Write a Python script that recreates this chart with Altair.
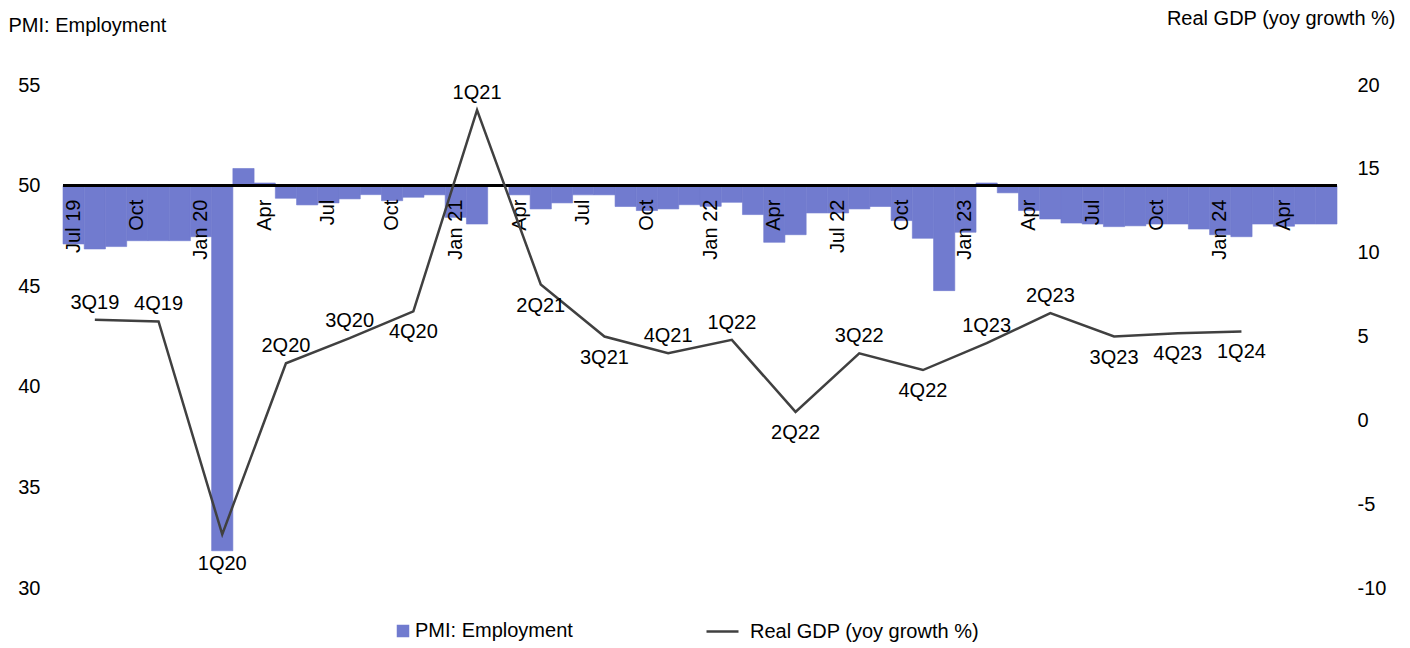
import altair as alt
import pandas as pd

# PMI employment index, monthly, Jul 2019 - Jun 2024
pmi_values = [
    47.10, 46.85, 46.97, 47.26, 47.26, 47.26,   # Jul-Dec 19
    47.46, 31.85, 50.85, 50.13, 49.37, 49.04,   # Jan-Jun 20
    49.14, 49.34, 49.55, 49.25, 49.42, 49.54,   # Jul-Dec 20
    48.42, 48.09, 50.05, 49.54, 48.84, 49.14,   # Jan-Jun 21
    49.54, 49.54, 48.96, 48.76, 48.84, 49.05,   # Jul-Dec 21
    48.97, 49.17, 48.56, 47.18, 47.56, 48.64,   # Jan-Jun 22
    48.64, 48.84, 48.96, 48.26, 47.38, 44.78,   # Jul-Dec 22
    47.68, 50.13, 49.64, 48.76, 48.34, 48.14,   # Jan-Jun 23
    48.09, 47.96, 48.00, 48.09, 48.09, 47.84,   # Jul-Dec 23
    47.56, 47.46, 48.09, 47.98, 48.09, 48.09,   # Jan-Jun 24
]

# Month labels, one every quarter starting Jul 19
tick_labels = ["Jul 19", "Oct", "Jan 20", "Apr", "Jul", "Oct", "Jan 21", "Apr",
               "Jul", "Oct", "Jan 22", "Apr", "Jul 22", "Oct", "Jan 23", "Apr",
               "Jul", "Oct", "Jan 24", "Apr"]

# Real GDP, year-on-year growth (%), quarterly
quarters = ["3Q19", "4Q19", "1Q20", "2Q20", "3Q20", "4Q20", "1Q21", "2Q21",
            "3Q21", "4Q21", "1Q22", "2Q22", "3Q22", "4Q22", "1Q23", "2Q23",
            "3Q23", "4Q23", "1Q24"]
gdp_values = [6.0, 5.9, -6.8, 3.4, 4.9, 6.5, 18.5, 8.1,
              5.0, 4.0, 4.8, 0.5, 4.0, 3.0, 4.6, 6.4,
              5.0, 5.2, 5.3]
# which side of the line each quarter label sits on
label_side = ["above", "above", "far below", "above", "above", "below", "above", "below",
              "below", "above", "above", "below", "above", "below", "above", "above",
              "below", "below", "below"]

BAR_COLOR = "#717bcf"
LINE_COLOR = "#404040"
FONT = "Liberation Sans"
FS = 20

pmi_df = pd.DataFrame({
    "idx": list(range(len(pmi_values))),
    "pmi": pmi_values,
    "series": "PMI: Employment",
})
tick_df = pd.DataFrame({
    "idx": [3 * k for k in range(len(tick_labels))],
    "label": tick_labels,
})
gdp_df = pd.DataFrame({
    "idx": [1 + 3 * k for k in range(len(quarters))],
    "quarter": quarters,
    "gdp": gdp_values,
    "side": label_side,
    "series": "Real GDP (yoy growth %)",
})

x_scale = alt.Scale(domain=[0, len(pmi_values)], nice=False, zero=False)
left_scale = alt.Scale(domain=[30, 55], nice=False, zero=False)
right_scale = alt.Scale(domain=[-10, 20], nice=False, zero=False)

left_axis = alt.Axis(
    values=[30, 35, 40, 45, 50, 55], domain=False, ticks=False, grid=False,
    labelFontSize=FS, labelColor="black", labelPadding=23, labelFont=FONT,
    title="PMI: Employment", titleAngle=0, titleX=-55, titleY=-60,
    titleAlign="left", titleBaseline="middle", titleFontWeight="normal",
    titleFontSize=FS, titleColor="black", titleFont=FONT,
)
right_axis = alt.Axis(
    orient="right", values=[-10, -5, 0, 5, 10, 15, 20], domain=False, ticks=False,
    grid=False, labelFontSize=FS, labelColor="black", labelPadding=20,
    labelAlign="left", labelFont=FONT, labelExpr="'' + datum.value",
    title="Real GDP (yoy growth %)", titleAngle=0, titleX=58, titleY=-67,
    titleAlign="right", titleBaseline="middle", titleFontWeight="normal",
    titleFontSize=FS, titleColor="black", titleFont=FONT,
)

bars = alt.Chart(pmi_df).transform_calculate(
    idx_end="datum.idx + 1"
).mark_bar(stroke=BAR_COLOR, strokeWidth=0.6).encode(
    x=alt.X("idx:Q", scale=x_scale, axis=None),
    x2="idx_end:Q",
    y=alt.Y("pmi:Q", scale=left_scale, axis=left_axis),
    y2=alt.datum(50),
    fill=alt.Fill("series:N", scale=alt.Scale(range=[BAR_COLOR]),
                  legend=alt.Legend(orient="none", legendX=330, legendY=536,
                                    title=None, labelFontSize=FS, labelFont=FONT,
                                    labelColor="black", symbolType="square",
                                    symbolSize=121, padding=0, labelOffset=2,
                                    labelLimit=400)),
)

base_rule = alt.Chart(pmi_df).mark_rule(color="black", strokeWidth=2).encode(
    y=alt.YDatum(50, scale=left_scale, axis=left_axis),
)

month_text = alt.Chart(tick_df).transform_calculate(
    mid="datum.idx + 0.5"
).mark_text(angle=270, align="right", baseline="middle", dx=-14,
            fontSize=FS, font=FONT, color="black").encode(
    x=alt.X("mid:Q", scale=x_scale, axis=None),
    y=alt.YDatum(50, scale=left_scale, axis=left_axis),
    text="label:N",
)

left_layer = alt.layer(bars, base_rule, month_text)

gdp_x = alt.X("mid:Q", scale=x_scale, axis=None)
gdp_y = alt.Y("gdp:Q", scale=right_scale, axis=right_axis)

gdp_line = alt.Chart(gdp_df).transform_calculate(
    mid="datum.idx + 0.5"
).mark_line(strokeWidth=2.5).encode(
    x=gdp_x,
    y=gdp_y,
    stroke=alt.Stroke("series:N", scale=alt.Scale(range=[LINE_COLOR]),
                      legend=alt.Legend(orient="none", legendX=642, legendY=529,
                                        title=None, labelFontSize=FS, labelFont=FONT,
                                        labelColor="black", symbolType="stroke",
                                        symbolSize=1024, symbolStrokeWidth=2.5,
                                        padding=0, labelOffset=10, labelLimit=400)),
)


def quarter_labels(side, offset):
    return alt.Chart(gdp_df).transform_calculate(
        mid="datum.idx + 0.5"
    ).transform_filter(alt.datum.side == side).mark_text(
        dy=offset, fontSize=FS, font=FONT, color="black"
    ).encode(x=gdp_x, y=gdp_y, text="quarter:N")


right_layer = alt.layer(
    gdp_line,
    quarter_labels("above", -17),
    quarter_labels("below", 21),
    quarter_labels("far below", 30),
)

chart = alt.layer(left_layer, right_layer).resolve_scale(
    y="independent"
).properties(
    width=1274,
    height=503,
    padding={"left": 63, "top": 85, "right": 73, "bottom": 60},
    autosize=alt.AutoSizeParams(type="none"),
    background="white",
).configure(font=FONT).configure_view(stroke=None)

chart.save("out.html", embed_options={"renderer": "svg", "actions": False})
